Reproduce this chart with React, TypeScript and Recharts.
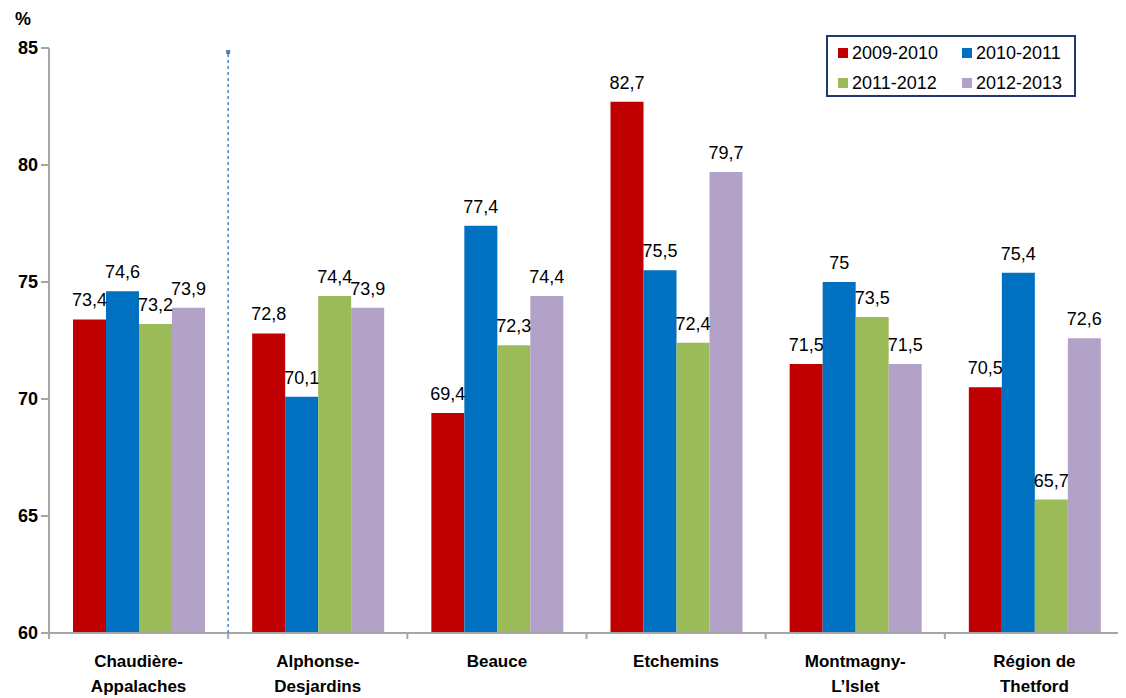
import { BarChart, Bar, XAxis, YAxis, LabelList } from 'recharts';

const REGIONS = ['Chaudière-\nAppalaches', 'Alphonse-\nDesjardins', 'Beauce', 'Etchemins', 'Montmagny-\nL\u2019Islet', 'Région de\nThetford'];
const Y2009 = [73.4, 72.8, 69.4, 82.7, 71.5, 70.5];
const Y2010 = [74.6, 70.1, 77.4, 75.5, 75, 75.4];
const Y2011 = [73.2, 74.4, 72.3, 72.4, 73.5, 65.7];
const Y2012 = [73.9, 73.9, 74.4, 79.7, 71.5, 72.6];
const Y_TICKS = [60, 65, 70, 75, 80, 85];

const SERIES = [
  { key: 'a', name: '2009-2010', color: '#C00000', values: Y2009 },
  { key: 'b', name: '2010-2011', color: '#0070C0', values: Y2010 },
  { key: 'c', name: '2011-2012', color: '#9BBB59', values: Y2011 },
  { key: 'd', name: '2012-2013', color: '#B3A2C7', values: Y2012 },
];

const data = REGIONS.map((r, i) => {
  const row: any = { region: r };
  SERIES.forEach(s => { row[s.key] = s.values[i]; });
  return row;
});

const FONT = "'Liberation Sans Narrow', 'Arial Narrow', 'Liberation Sans', Arial, sans-serif";
const AXIS_GREY = '#A6A6A6';
const PLOT_H = 585;

const fmt = (v: any) => String(v).replace('.', ',');

function RegionTick(props: any) {
  const { x, y, payload, index } = props;
  const half = payload.offset || 0;
  const lines = String(payload.value).split('\n');
  const last = index === REGIONS.length - 1;
  return (
    <g>
      <line x1={x - half} y1={y} x2={x - half} y2={y + 6} stroke={AXIS_GREY} strokeWidth={2} />
      {last && <line x1={x + half} y1={y} x2={x + half} y2={y + 6} stroke={AXIS_GREY} strokeWidth={2} />}
      {index === 1 && (
        <g>
          <line x1={x - half} y1={y} x2={x - half} y2={y - PLOT_H + 4} stroke='#4F81BD' strokeWidth={1.5} strokeDasharray='3 3' />
          <rect x={x - half - 2} y={y - PLOT_H + 2} width={4} height={4} fill='#4F81BD' />
        </g>
      )}
      {lines.map((l, i) => (
        <text key={i} x={x} y={y + 34 + i * 25} textAnchor='middle' fontFamily={FONT} fontWeight='bold' fontSize={17} fill='#000'>{l}</text>
      ))}
    </g>
  );
}

function LegendBox() {
  return (
    <div style={{ position: 'absolute', top: 27, left: 818, border: '2px solid #1F3A6E', width: 246, height: 58, fontFamily: FONT, fontSize: 18, color: '#000', background: '#fff' }}>
      {SERIES.map((s, i) => (
        <div key={s.key} style={{ position: 'absolute', left: 10 + (i % 2) * 124, top: 4 + Math.floor(i / 2) * 30, display: 'flex', alignItems: 'center', height: 24 }}>
          <span style={{ display: 'inline-block', width: 10, height: 10, background: s.color, marginRight: 4 }} />
          <span>{s.name}</span>
        </div>
      ))}
    </div>
  );
}

export default function App() {
  return (
    <div style={{ width: 1118, height: 690, background: '#fff', position: 'relative' }}>
      <BarChart width={1118} height={690} data={data} margin={{ top: 40, right: 2, left: 0, bottom: 0 }} barCategoryGap='13.4%' barGap={0}>
        <XAxis dataKey='region' height={65} tickLine={false} tickSize={0} tickMargin={0} interval={0} stroke={AXIS_GREY} strokeWidth={2} tick={<RegionTick />} />
        <YAxis width={41} domain={[60, 85]} ticks={Y_TICKS} allowDataOverflow stroke={AXIS_GREY} strokeWidth={2} tickSize={8} tickMargin={3}
          tick={{ fill: '#000', fontFamily: FONT, fontWeight: 'bold', fontSize: 18 }}
          label={{ content: () => (<text x={23} y={17} textAnchor='end' fontFamily={FONT} fontWeight='bold' fontSize={18} fill='#000'>%</text>) }} />
        {SERIES.map(s => (
          <Bar key={s.key} dataKey={s.key} name={s.name} fill={s.color} isAnimationActive={false}>
            <LabelList dataKey={s.key} position='top' offset={13} formatter={fmt} fill='#000' fontFamily={FONT} fontSize={18} />
          </Bar>
        ))}
      </BarChart>
      <LegendBox />
    </div>
  );
}
